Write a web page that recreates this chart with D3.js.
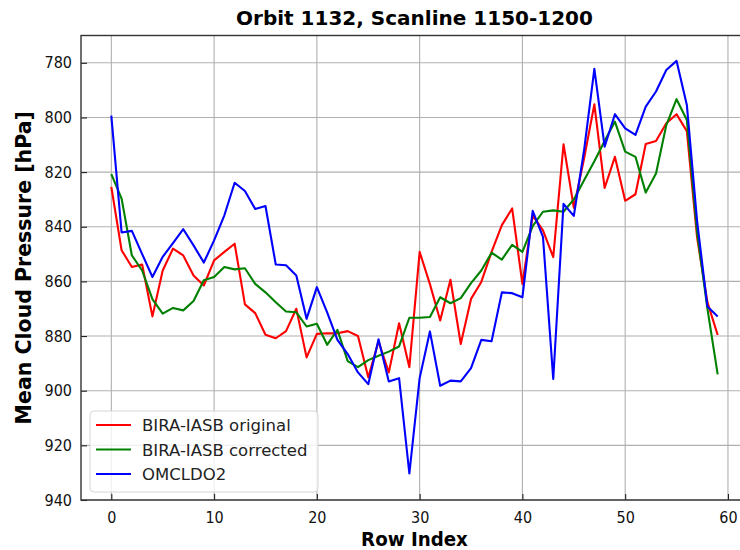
<!DOCTYPE html>
<html>
<head>
<meta charset="utf-8">
<script src="https://cdn.jsdelivr.net/npm/d3@7"></script>
<style>
  body { margin: 0; background: #fff; }
  svg { font-family: 'DejaVu Sans Condensed', 'DejaVu Sans', sans-serif; }
</style>
</head>
<body>
<script>
// values, one per row index 0..59
let rows = d3.range(0, 60)

let original = [825.4, 848.6, 854.7, 853.8, 872.8, 856, 848, 850.5, 857.8, 861.5,
  852.3, 849.2, 846.2, 868.4, 871.6, 879.5, 880.8, 878.2, 870, 887.8,
  879.2, 879, 879, 878.2, 880, 895.1, 882, 893.3, 875.3, 891.4,
  849.2, 861, 874.3, 859.4, 882.9, 866.4, 860.2, 849.2, 839.4, 833.3,
  860.9, 835.8, 841.3, 851.1, 809.8, 833, 815, 795.2, 825.8, 814.4,
  830.5, 828.1, 809.7, 808.6, 802.1, 798.8, 805, 844, 867.6, 879.6]

let corrected = [820.7, 829.7, 850.5, 856, 866.5, 871.8, 869.7, 870.6, 867.2, 859.6,
  858.4, 854.7, 855.6, 855.2, 860.9, 864, 867.6, 871, 871.3, 876.5,
  875.5, 883.2, 877.7, 889.2, 891.4, 888.8, 887.2, 885.7, 883.8, 873.3,
  873.3, 873, 865.8, 868, 866.1, 860.6, 856, 849.5, 852, 846.6,
  849.2, 839.8, 834.5, 834, 834.5, 830, 823, 816, 808.6, 801.5,
  812.5, 814.4, 827.5, 820.5, 802.8, 793.3, 800.9, 842, 870, 894]

let omcldo2 = [799.3, 842.1, 841.5, 850, 858.4, 851, 846, 840.9, 846.8, 853.1,
  845, 835.8, 823.9, 826.9, 833.5, 832.4, 853.8, 854.1, 857.8, 873.7,
  862.1, 871.3, 881.4, 886.6, 893.3, 897.6, 881.2, 896.6, 895.4, 930.3,
  895.4, 878.3, 898.2, 896.3, 896.6, 891.7, 881.4, 881.9, 864, 864.3,
  865.8, 834.2, 843.7, 895.7, 831.6, 836, 812, 782.2, 810.7, 798.8,
  804, 806.4, 796, 790.5, 782.6, 779.3, 795.4, 838, 869.2, 872.8]

let xTicks = [0, 10, 20, 30, 40, 50, 60]
let yTicks = [780, 800, 820, 840, 860, 880, 900, 920, 940]

let seriesNames = ['BIRA-IASB original', 'BIRA-IASB corrected', 'OMCLDO2']
let seriesColors = ['#ff0000', '#008000', '#0000ff']
let seriesValues = [original, corrected, omcldo2]

// measurements for the plot
let m = {
  width: 740,
  height: 550,
  left: 81,
  right: 748,
  top: 35.5,
  bottom: 500,
}

let svg = d3.select('body')
  .append('svg')
  .attr('width', m.width)
  .attr('height', m.height)

let xScale = d3.scaleLinear()
  .domain([-2.95, 61.95])
  .range([m.left, m.right])

let yScale = d3.scaleLinear()
  .domain([770, 940])
  .range([m.top, m.bottom])

// grid
svg.append('g')
  .selectAll('line.gx')
  .data(xTicks)
  .enter()
  .append('line')
    .attr('x1', function(d) { return xScale(d) })
    .attr('x2', function(d) { return xScale(d) })
    .attr('y1', m.top)
    .attr('y2', m.bottom)
    .attr('stroke', '#b0b0b0')
    .attr('stroke-width', 1.1)

svg.append('g')
  .selectAll('line.gy')
  .data(yTicks)
  .enter()
  .append('line')
    .attr('x1', m.left)
    .attr('x2', m.right)
    .attr('y1', function(d) { return yScale(d) })
    .attr('y2', function(d) { return yScale(d) })
    .attr('stroke', '#b0b0b0')
    .attr('stroke-width', 1.1)

// series lines
let line = d3.line()
  .x(function(d, i) { return xScale(rows[i]) })
  .y(function(d) { return yScale(d) })

seriesValues.forEach(function(vals, k) {
  svg.append('path')
    .datum(vals)
    .attr('d', line)
    .attr('fill', 'none')
    .attr('stroke', seriesColors[k])
    .attr('stroke-width', 2.1)
    .attr('stroke-linejoin', 'round')
})

// axes with inward ticks
let xAxis = d3.axisBottom(xScale).tickValues(xTicks).tickSize(-6).tickPadding(12)
let yAxis = d3.axisLeft(yScale).tickValues(yTicks).tickSize(-6).tickPadding(9)

let gx = svg.append('g')
  .attr('transform', 'translate(0,' + m.bottom + ')')
  .call(xAxis)

let gy = svg.append('g')
  .attr('transform', 'translate(' + m.left + ',0)')
  .call(yAxis)

;[gx, gy].forEach(function(g) {
  g.select('.domain').remove()
  g.selectAll('.tick line').attr('stroke', '#222').attr('stroke-width', 1.1)
  g.selectAll('.tick text')
    .attr('fill', '#111')
    .style('font-size', '16px')
    .style('font-family', "'DejaVu Sans Condensed', 'DejaVu Sans', sans-serif")
})

// frame
svg.append('rect')
  .attr('x', m.left)
  .attr('y', m.top)
  .attr('width', m.right - m.left)
  .attr('height', m.bottom - m.top)
  .attr('fill', 'none')
  .attr('stroke', '#333')
  .attr('stroke-width', 1.4)

// title and labels
svg.append('text')
  .attr('x', (m.left + m.right) / 2)
  .attr('y', 25)
  .attr('text-anchor', 'middle')
  .style('font-family', "'DejaVu Sans', sans-serif")
  .style('font-size', '20px')
  .style('font-weight', 'bold')
  .text('Orbit 1132, Scanline 1150-1200')

svg.append('text')
  .attr('x', (m.left + m.right) / 2)
  .attr('y', 546)
  .attr('text-anchor', 'middle')
  .style('font-size', '20.3px')
  .style('font-weight', 'bold')
  .text('Row Index')

svg.append('text')
  .attr('transform', 'translate(31,' + (m.top + m.bottom) / 2 + ') rotate(-90)')
  .attr('text-anchor', 'middle')
  .style('font-family', "'DejaVu Sans', sans-serif")
  .style('font-size', '20.5px')
  .style('font-weight', 'bold')
  .text('Mean Cloud Pressure [hPa]')

// legend
let legend = svg.append('g').attr('transform', 'translate(90,411)')

legend.append('rect')
  .attr('width', 228)
  .attr('height', 81)
  .attr('rx', 4)
  .attr('fill', 'rgba(255,255,255,0.8)')
  .attr('stroke', '#d6d6d6')

seriesNames.forEach(function(name, k) {
  let y = 14 + k * 24.5
  legend.append('line')
    .attr('x1', 6)
    .attr('x2', 41)
    .attr('y1', y)
    .attr('y2', y)
    .attr('stroke', seriesColors[k])
    .attr('stroke-width', 2.1)
  legend.append('text')
    .attr('x', 52)
    .attr('y', y + 6)
    .style('font-family', "'DejaVu Sans', sans-serif")
    .style('font-size', '16.5px')
    .attr('fill', '#222')
    .text(name)
})
</script>
</body>
</html>
